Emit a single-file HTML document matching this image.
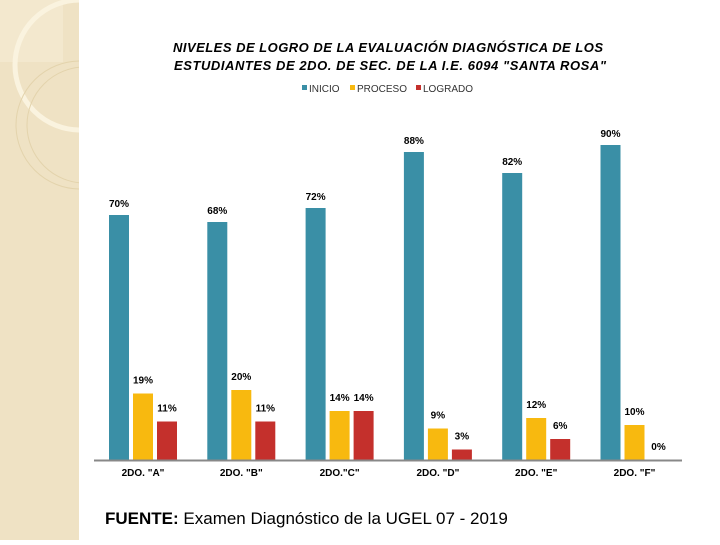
<!DOCTYPE html>
<html><head><meta charset="utf-8"><style>
body{margin:0;width:720px;height:540px;background:#fff;overflow:hidden;font-family:"Liberation Sans",sans-serif}
</style></head><body>
<svg width="720" height="540">
<defs><clipPath id="stripeclip"><rect x="0" y="0" width="79" height="540"/></clipPath></defs>
<g clip-path="url(#stripeclip)">
<rect x="0" y="0" width="79" height="540" fill="#efe2c4"/>
<rect x="0" y="0" width="63" height="62" fill="#f5ecd6" opacity="0.6"/>
<circle cx="80" cy="65" r="65" fill="none" stroke="#faf3df" stroke-width="5"/>
<circle cx="80" cy="125" r="64" fill="none" stroke="#e3d3ac" stroke-width="1"/>
<circle cx="85" cy="125" r="58" fill="none" stroke="#e3d3ac" stroke-width="1"/>
</g>
<text x="388" y="52" text-anchor="middle" font-size="13" font-weight="bold" font-style="italic" textLength="430">NIVELES DE LOGRO DE LA EVALUACIÓN DIAGNÓSTICA DE LOS</text>
<text x="390" y="70" text-anchor="middle" font-size="13" font-weight="bold" font-style="italic" textLength="432">ESTUDIANTES DE 2DO. DE SEC. DE LA  I.E. 6094 "SANTA ROSA"</text>
<g id="legend" font-size="10" fill="#333"></g>
<g id="chart"></g>
<text x="105" y="524" font-size="17"><tspan font-weight="bold">FUENTE:</tspan> Examen Diagnóstico de la UGEL 07 - 2019</text>
</svg>
<script>
const categories=['2DO. "A"','2DO. "B"','2DO."C"','2DO. "D"','2DO. "E"','2DO. "F"'];
const inicio=[70,68,72,88,82,90];
const proceso=[19,20,14,9,12,10];
const logrado=[11,11,14,3,6,0];
const seriesNames=['INICIO','PROCESO','LOGRADO'];
const colors=['#3a8fa6','#f8b90f','#c4302c'];
const NS='http://www.w3.org/2000/svg';
function mk(t,a,p){const e=document.createElementNS(NS,t);for(const k in a)e.setAttribute(k,a[k]);p.appendChild(e);return e;}
const base=460,k=3.5;
const y=v=>base-v*k;
const gx=i=>143+i*98.3;
const chart=document.getElementById('chart');
const all=[inicio,proceso,logrado];
categories.forEach((c,i)=>{
  all.forEach((s,j)=>{
    const x=gx(i)-34+j*24;
    const r=mk('rect',{x:x,y:y(s[i]),width:20,height:s[i]*k,fill:colors[j]},chart);
    
    
    const t=mk('text',{x:x+10,y:y(s[i])-(j==0?8:10),'text-anchor':'middle','font-size':'10','font-weight':'bold'},chart);
    t.textContent=s[i]+'%';
    
    
  });
  const l=mk('text',{x:gx(i),y:476,'text-anchor':'middle','font-size':'10','font-weight':'bold'},chart);
  l.textContent=categories[i];
  
  
});
const ax=mk('line',{x1:94,x2:682,y1:base+0.5,y2:base+0.5,stroke:'#888','stroke-width':2},chart);


const lg=document.getElementById('legend');
const lx=[302,350,416];
seriesNames.forEach((n,j)=>{
  const r=mk('rect',{x:lx[j],y:85,width:5,height:5,fill:colors[j]},lg);
  
  
  const t=mk('text',{x:lx[j]+7,y:92},lg);
  t.textContent=n;
  
  
});
</script>
</body></html>
